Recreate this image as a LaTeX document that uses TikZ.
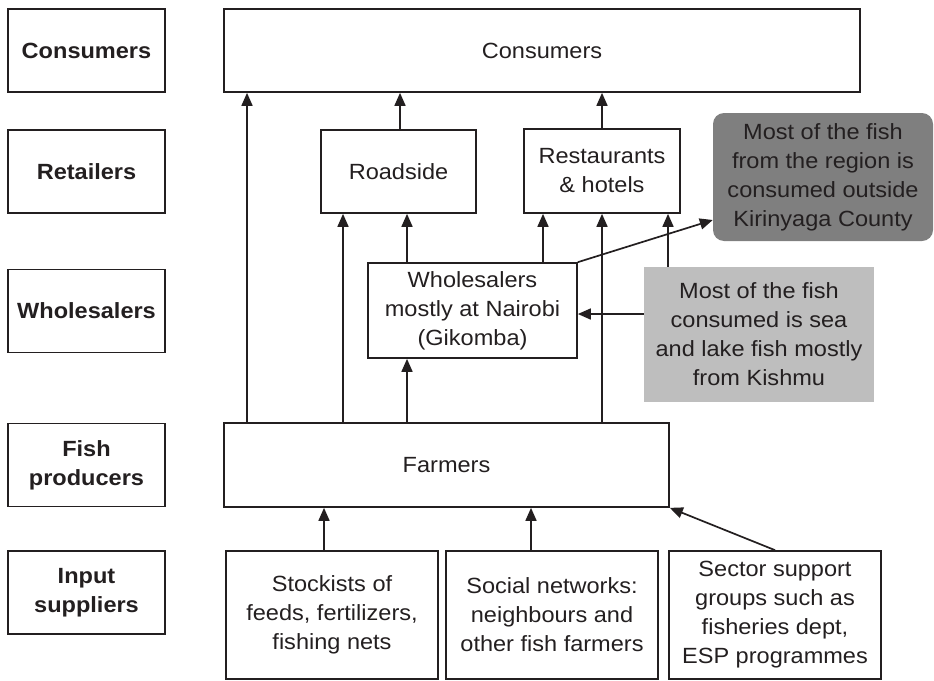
\documentclass[tikz,border=0pt]{standalone}
\usepackage{fontspec}
\setmainfont{Liberation Sans}[FakeStretch=1.07]
\usetikzlibrary{arrows.meta}
\definecolor{ink}{HTML}{231F20}
\definecolor{darkfill}{HTML}{7F7F7F}
\definecolor{lightfill}{HTML}{BEBEBE}
\begin{document}
\begin{tikzpicture}[x=1pt,y=-1pt,
  txt/.style={font=\fontsize{22}{29}\selectfont, text=ink, align=center},
  box/.style={txt, draw=ink, line width=1.7pt, rectangle, inner sep=0pt},
  lbl/.style={box, minimum width=157pt, minimum height=83pt, font=\fontsize{22}{29}\selectfont\bfseries},
  arr/.style={draw=ink, line width=1.7pt, -{Triangle[length=13pt,width=11pt]}},
  callout/.style={txt, rectangle, inner sep=0pt},
]
\useasboundingbox (0,0) rectangle (934,680);
% left column labels
\node[lbl] (lcons) at (86.5,50.5) {Consumers};
\node[lbl] (lret)  at (86.5,171.5) {Retailers};
\node[lbl] (lwho)  at (86.5,311) {Wholesalers};
\node[lbl] (lfish) at (86.5,465) {Fish\\producers};
\node[lbl] (linp)  at (86.5,592.5) {Input\\suppliers};
% main boxes
\node[box, minimum width=636pt, minimum height=83pt] (cons) at (542,50.5) {Consumers};
\node[box, minimum width=155pt, minimum height=83pt] (road) at (398.5,171.5) {Roadside};
\node[box, minimum width=156pt, minimum height=84pt] (rest) at (602,171) {Restaurants\\\& hotels};
\node[callout, fill=darkfill, rounded corners=11pt, minimum width=220pt, minimum height=128pt] (dark) at (823,177) {Most of the fish\\from the region is\\consumed outside\\Kirinyaga County};
\node[box, minimum width=209pt, minimum height=95pt] (whole) at (472.5,310.5) {Wholesalers\\mostly at Nairobi\\(Gikomba)};
\node[callout, fill=lightfill, minimum width=230pt, minimum height=135pt] (light) at (759,334.5) {Most of the fish\\consumed is sea\\and lake fish mostly\\from Kishmu};
\node[box, minimum width=445pt, minimum height=84pt] (farm) at (446.5,465) {Farmers};
\node[box, minimum width=212pt, minimum height=128pt] (stock) at (332,615) {Stockists of\\feeds, fertilizers,\\fishing nets};
\node[box, minimum width=212pt, minimum height=128pt] (social) at (552,615) {Social networks:\\neighbours and\\other fish farmers};
\node[box, minimum width=212pt, minimum height=128pt] (sector) at (775,615) {Sector support\\groups such as\\fisheries dept,\\ESP programmes};
% helper coordinates
\coordinate (xa) at (247,0);
\coordinate (xb) at (343,0);
\coordinate (xc) at (407,0);
\coordinate (xd) at (602,0);
\coordinate (xe) at (543,0);
\coordinate (xf) at (668,0);
\coordinate (xg) at (400,0);
\coordinate (xh) at (324,0);
\coordinate (xi) at (531,0);
\coordinate (ya) at (0,220);
\coordinate (yb) at (0,314);
% connectors
\draw[arr] (farm.north -| xa) -- (cons.south -| xa);
\draw[arr] (farm.north -| xb) -- (road.south -| xb);
\draw[arr] (farm.north -| xc) -- (whole.south -| xc);
\draw[arr] (farm.north -| xd) -- (rest.south -| xd);
\draw[arr] (whole.north -| xc) -- (road.south -| xc);
\draw[arr] (whole.north -| xe) -- (rest.south -| xe);
\draw[arr] (light.north -| xf) -- (rest.south -| xf);
\draw[arr] (road.north -| xg) -- (cons.south -| xg);
\draw[arr] (rest.north -| xd) -- (cons.south -| xd);
\draw[arr] (whole.north east) -- (dark.west |- ya);
\draw[arr] (light.west |- yb) -- (whole.east |- yb);
\draw[arr] (stock.north -| xh) -- (farm.south -| xh);
\draw[arr] (social.north -| xi) -- (farm.south -| xi);
\draw[arr] (sector.north) -- (farm.south east);
\end{tikzpicture}
\end{document}
